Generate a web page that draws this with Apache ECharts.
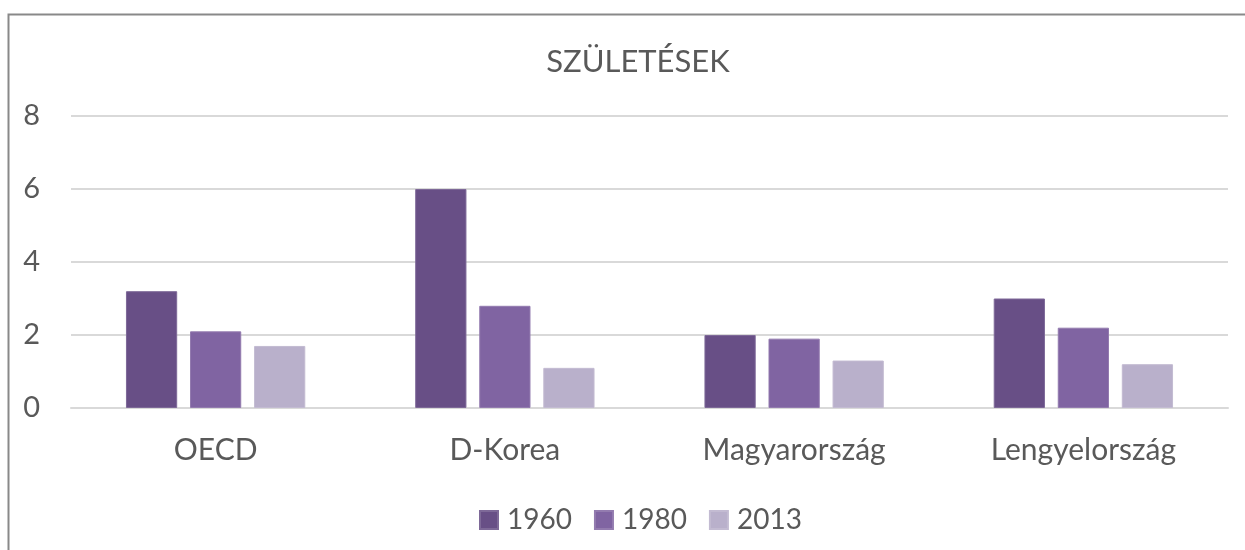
<!DOCTYPE html>
<html>
<head>
<meta charset="utf-8">
<script src="https://cdn.jsdelivr.net/npm/echarts@6/dist/echarts.min.js"></script>
<style>
  html, body { margin: 0; padding: 0; background: #fff; }
  #chart { width: 1245px; height: 550px; }
</style>
</head>
<body>
<div id="chart"></div>
<script>
var categories = ['OECD', 'D-Korea', 'Magyarország', 'Lengyelország']
var years = ['1960', '1980', '2013']
var births1960 = [3.2, 6.0, 2.0, 3.0]
var births1980 = [2.1, 2.8, 1.9, 2.2]
var births2013 = [1.7, 1.1, 1.3, 1.2]
var yTicks = [0, 2, 4, 6, 8]

var colors = ['#684F86', '#8064A2', '#B9B0CB']
var font = 'Lato, "Open Sans", sans-serif'

var chart = echarts.init(document.getElementById('chart'))

function barSeries(name, data, i) {
  return {
    name: name,
    type: 'bar',
    data: data,
    barGap: '25%',
    barCategoryGap: '38%',
    itemStyle: {
      color: colors[i],
      borderColor: echarts.color.lift(colors[i], 0.15),
      borderWidth: 1
    }
  }
}

chart.setOption({
  animation: false,
  textStyle: { fontFamily: font },
  graphic: [{
    type: 'rect',
    shape: { x: 8.5, y: 14.5, width: 1300, height: 600 },
    style: { fill: 'none', stroke: '#898989', lineWidth: 2 },
    silent: true,
    z: -1
  }],
  title: {
    text: 'SZÜLETÉSEK',
    left: 633,
    top: 41,
    textAlign: 'center',
    textStyle: { color: '#595959', fontSize: 31, fontWeight: 'normal', fontFamily: font }
  },
  legend: {
    data: years,
    left: 474,
    top: 501,
    itemWidth: 18,
    itemHeight: 18,
    itemGap: 22,
    icon: 'rect',
    textStyle: { color: '#595959', fontSize: 28, fontFamily: font, padding: [0, 0, 0, 4] }
  },
  grid: { left: 71, right: 17, top: 116, bottom: 142, containLabel: false },
  xAxis: {
    type: 'category',
    data: categories,
    axisLine: { lineStyle: { color: '#d9d9d9', width: 2 } },
    axisTick: { show: false },
    axisLabel: { color: '#595959', fontSize: 30, margin: 27, fontFamily: font }
  },
  yAxis: {
    type: 'value',
    min: yTicks[0],
    max: yTicks[yTicks.length - 1],
    interval: 2,
    axisLine: { show: false },
    axisTick: { show: false },
    splitLine: { lineStyle: { color: '#d9d9d9', width: 2 } },
    axisLabel: { color: '#595959', fontSize: 29, margin: 31, fontFamily: font }
  },
  series: [
    barSeries(years[0], births1960, 0),
    barSeries(years[1], births1980, 1),
    barSeries(years[2], births2013, 2)
  ]
})
</script>
</body>
</html>
